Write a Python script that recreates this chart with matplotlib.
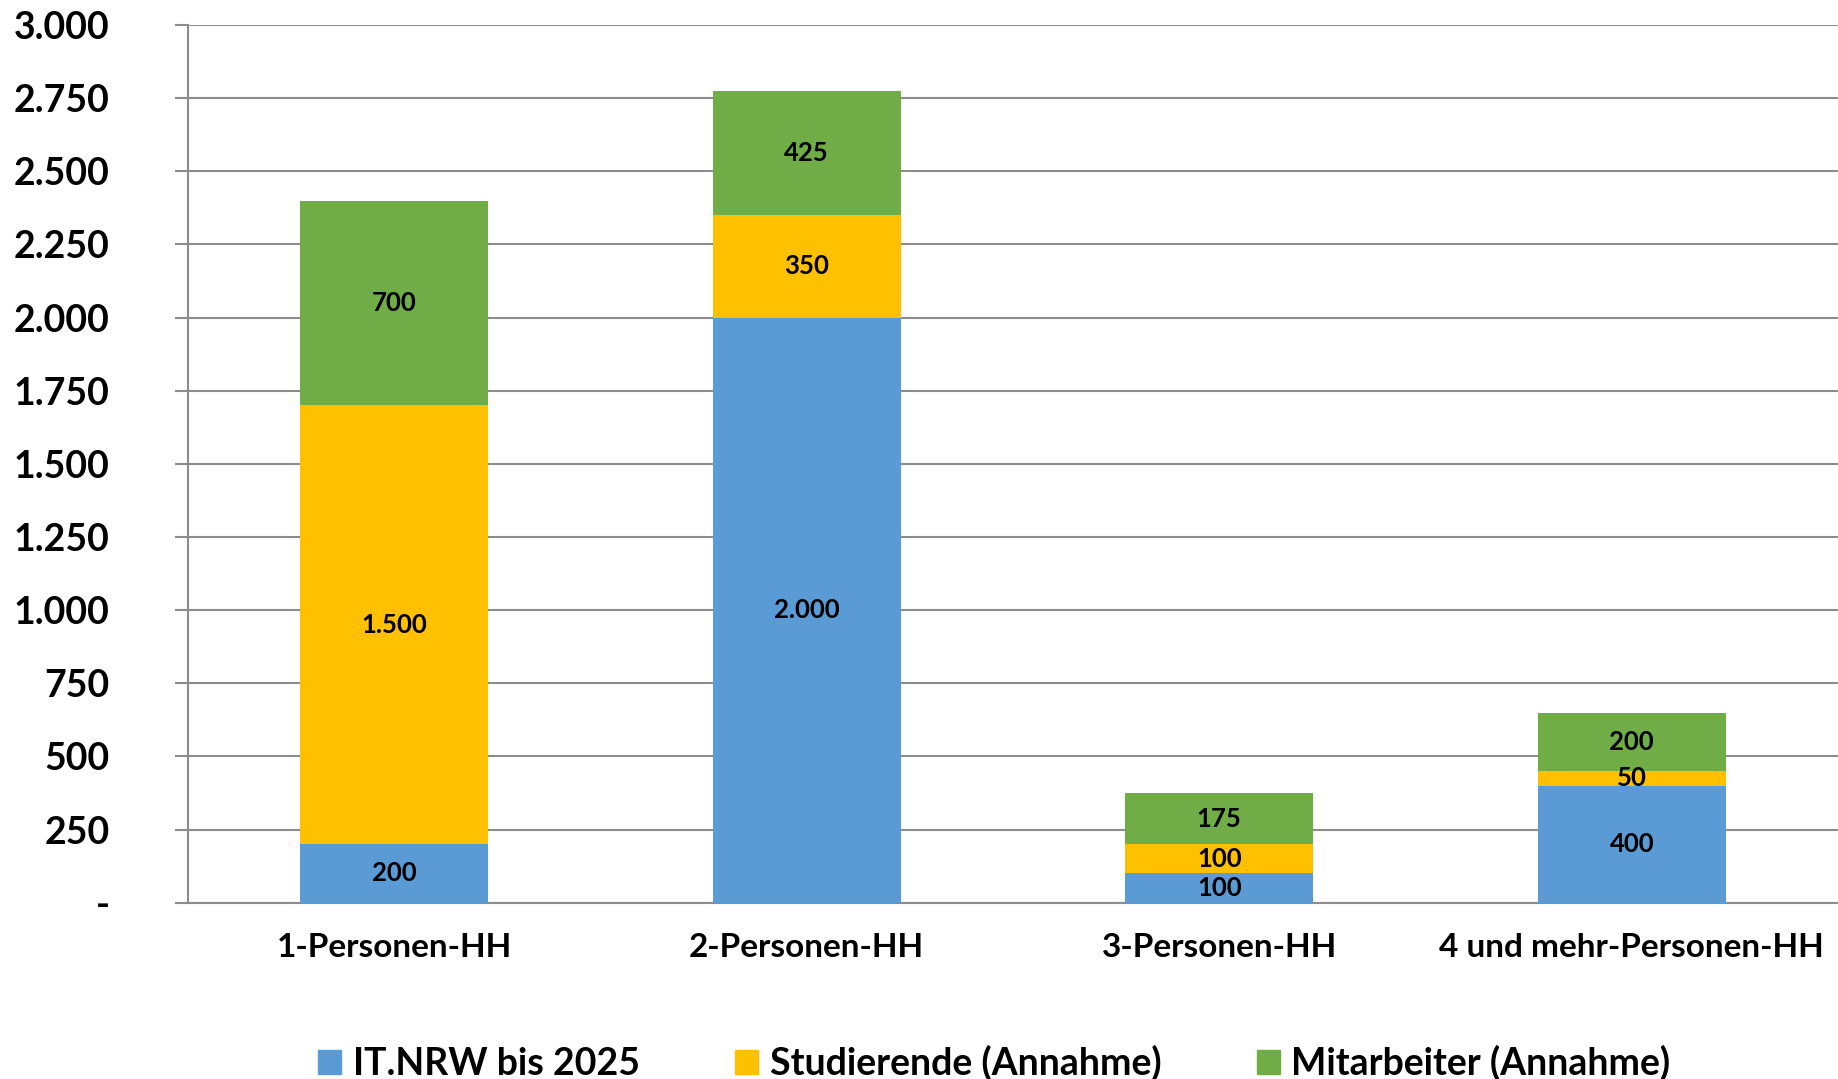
import numpy as np
import matplotlib
matplotlib.use("Agg")
from matplotlib import pyplot as plt
from matplotlib.patches import Patch
from matplotlib.ticker import FuncFormatter

####################################################

# Data

categories = ["1-Personen-HH", "2-Personen-HH", "3-Personen-HH", "4 und mehr-Personen-HH"]
series_names = ["IT.NRW bis 2025", "Studierende (Annahme)", "Mitarbeiter (Annahme)"]
it_nrw = [200, 2000, 100, 400]
studierende = [1500, 350, 100, 50]
mitarbeiter = [700, 425, 175, 200]
colors = ["#5B9BD5", "#FFC000", "#70AD47"]

####################################################

plt.rcParams['font.family'] = ['Lato', 'DejaVu Sans']
plt.rcParams['font.weight'] = 'bold'

def fmt(v):
    if v == 0:
        return "-"
    return f"{int(v):,}".replace(",", ".")

fig = plt.figure(figsize=(18.38, 10.79), dpi=100)
ax = fig.add_axes([0.1023, 0.1634, 0.8977, 0.8134])

x = np.arange(len(categories))
bottom = np.zeros(len(categories))
for vals, col in zip([it_nrw, studierende, mitarbeiter], colors):
    vals = np.array(vals)
    bars = ax.bar(x, vals, 0.456, bottom=bottom, color=col, zorder=3)
    for b, v, b0 in zip(bars, vals, bottom):
        ax.text(b.get_x() + b.get_width() / 2, b0 + v / 2, fmt(v),
                ha="center", va="center", fontsize=18.5, fontweight="bold", zorder=4)
    bottom = bottom + vals

ax.set_xlim(-0.5, 3.5)
ax.set_ylim(0, 3000)
ax.set_yticks(np.arange(0, 3001, 250))
ax.yaxis.set_major_formatter(FuncFormatter(lambda v, p: fmt(v)))
ax.set_xticks(x)
ax.set_xticklabels(categories, fontsize=24, fontweight="bold")
for lab in ax.get_yticklabels():
    lab.set_fontsize(27)
    lab.set_fontweight("bold")

ax.grid(axis="y", color="#8c8c8c", linewidth=1.5, zorder=0)
for s in ["top", "right"]:
    ax.spines[s].set_visible(False)
ax.spines["left"].set_color("#8c8c8c")
ax.spines["left"].set_linewidth(1.5)
ax.spines["bottom"].set_color("#8c8c8c")
ax.spines["bottom"].set_linewidth(1.5)
ax.tick_params(axis="y", length=9.4, width=1.5, color="#8c8c8c", pad=47)
ax.tick_params(axis="x", length=0, pad=22)

handles = [Patch(color=c) for c in colors]
fig.legend(handles, series_names, loc="center", bbox_to_anchor=(0.541, 0.015),
           ncol=3, frameon=False, handlelength=0.62, handleheight=0.62,
           handletextpad=0.3, columnspacing=2.55, prop={"weight": "bold", "size": 27})

fig.savefig("out.png", dpi=100)
